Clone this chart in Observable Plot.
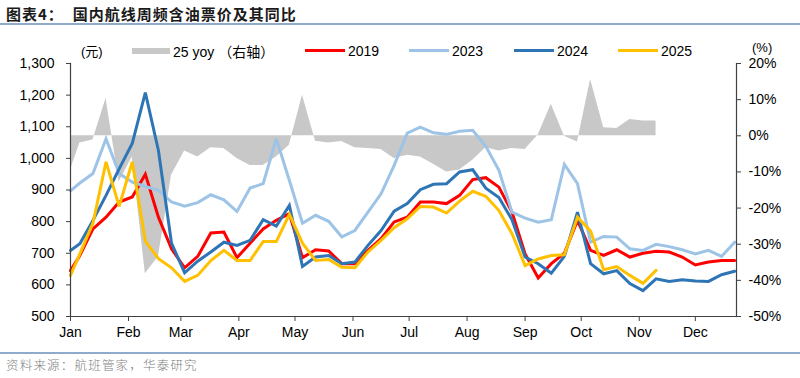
<!DOCTYPE html>
<html>
<head>
<meta charset="utf-8">
<script src="https://cdn.jsdelivr.net/npm/d3@7"></script>
<script src="https://cdn.jsdelivr.net/npm/@observablehq/plot@0.6"></script>
<style>
  html, body { margin: 0; padding: 0; background: #fff; }
  #wrap { position: relative; width: 800px; height: 378px; overflow: hidden; font-family: "Liberation Sans", Arial, sans-serif; }
  .abs { position: absolute; white-space: nowrap; }
  .title { left: 6px; top: 5px; font-family: "Noto Sans CJK SC", sans-serif; font-weight: 700; font-size: 15px; line-height: 18px; color: #1a1a1a; letter-spacing: 1px; }
  .rule { left: 0; width: 800px; height: 1.5px; background: #8FAACB; }
  .footer { left: 6px; top: 357px; font-family: "Noto Sans CJK SC", sans-serif; font-weight: 300; font-size: 12.5px; line-height: 16px; color: #808080; letter-spacing: 1.2px; }
  .leg { font-size: 14px; line-height: 16px; color: #000; }
  .sw { position: absolute; height: 3px; }
  .unit { font-size: 13px; line-height: 14px; color: #000; }
</style>
</head>
<body>
<div id="wrap">
  <div class="abs title">图表4：&nbsp; 国内航线周频含油票价及其同比</div>
  <div class="abs rule" style="top:23px"></div>
  <div id="chart" class="abs" style="left:0;top:28px"></div>
  <div id="legend"></div>
  <div class="abs unit" style="left:81px;top:44px">(<span style="font-family:'Noto Sans CJK SC'">元</span>)</div>
  <div class="abs unit" style="left:752px;top:41px">(%)</div>
  <div class="abs rule" style="top:352px"></div>
  <div class="abs footer">资料来源：航班管家，华泰研究</div>
</div>
<script>
// Weekly observation dates (shared x for all series), plotted on a 2025 calendar
const weeks = ["01-01","01-06","01-13","01-20","01-27","02-03","02-10","02-17","02-24","03-03","03-10",
  "03-17","03-24","03-31","04-07","04-14","04-21","04-28","05-05","05-12","05-19","05-26",
  "06-02","06-09","06-16","06-23","06-30","07-07","07-14","07-21","07-28","08-04",
  "08-11","08-18","08-25","09-01","09-08","09-15","09-22","09-29","10-06","10-13",
  "10-20","10-27","11-03","11-10","11-17","11-24","12-01","12-08","12-15","12-22"];

// Fares (元)
const fare2019 = [645,693,777,814,862,878,950,814,714,654,690,
  764,767,686,732,777,804,825,686,711,707,667,
  667,709,746,799,814,862,862,857,883,933,
  939,909,830,698,622,667,700,804,709,693,
  711,688,700,706,704,688,663,672,677,677];
const fare2023 = [897,922,952,1062,952,925,911,899,862,849,860,
  885,869,832,906,920,1062,930,795,820,801,752,
  772,830,888,978,1080,1099,1081,1076,1086,1089,
  1038,962,830,811,798,806,981,920,735,753,
  751,714,709,728,721,711,698,709,690,735];
const fare2024 = [709,730,804,883,967,1047,1208,1025,732,638,675,
  704,735,725,741,806,786,851,658,688,693,667,
  672,725,772,833,857,901,918,920,957,964,
  906,876,806,688,667,637,690,830,667,635,
  645,604,582,619,611,616,612,611,632,643];
const fare2025 = [630,698,795,989,848,989,738,683,654,611,630,
  677,709,677,677,737,737,823,732,677,680,656,
  654,704,741,781,809,848,846,827,865,896,
  880,835,762,661,682,693,695,814,770,648,
  658,630,605,646];
// 2025 year-on-year (%, right axis)
const yoy25 = [-9.5,-2.0,-1.2,10.3,-12.8,-5.9,-38.2,-33.5,-10.9,-4.2,-5.9,
  -3.3,-3.5,-6.3,-8.2,-8.2,-5.9,-2.6,11.2,-1.5,-2.0,-1.6,
  -3.3,-3.5,-3.8,-6.3,-5.4,-5.9,-7.9,-10.0,-9.5,-6.8,
  -3.3,-4.2,-3.5,-3.8,0.2,8.7,-0.1,-1.7,15.6,2.2,
  2.0,4.5,4.1,4.1];

const leftTicks = [500,600,700,800,900,1000,1100,1200,1300];
const pctTicks = [-50,-40,-30,-20,-10,0,10,20];
const monthTicks = ["01-01","02-01","03-01","04-01","05-01","06-01","07-01","08-01","09-01","10-01","11-01","12-01"];

const series = [
  {name: "2019", values: fare2019, color: "#FF0000"},
  {name: "2023", values: fare2023, color: "#9DC3E6"},
  {name: "2024", values: fare2024, color: "#2E75B6"},
  {name: "2025", values: fare2025, color: "#FFC000"}
];

const toDate = s => new Date("2025-" + s + "T00:00:00Z");
// map right-axis percentage onto the left scale: 20% <-> 1300, -50% <-> 500
const toLeft = p => 500 + (p + 50) * 800 / 70;
const fromLeft = v => (v - 500) * 70 / 800 - 50;

const lineData = series.flatMap(s => s.values.map((v, i) => ({date: toDate(weeks[i]), v, name: s.name})));
const yoyData = yoy25.map((p, i) => ({date: toDate(weeks[i]), p}));

const axisColor = "#404040";
const chart = Plot.plot({
  width: 800,
  height: 322,
  marginTop: 35,
  marginBottom: 34,
  marginLeft: 70,
  marginRight: 64,
  style: {fontFamily: "'Liberation Sans', Arial, sans-serif", fontSize: "14px", color: "#000", background: "transparent", overflow: "visible"},
  x: {type: "utc", domain: [toDate("01-01"), toDate("12-23")]},
  y: {domain: [500, 1300]},
  color: {domain: series.map(s => s.name), range: series.map(s => s.color)},
  marks: [
    Plot.areaY(yoyData, {x: "date", y1: () => toLeft(0), y2: d => toLeft(d.p), fill: "#C8C8C8", curve: "linear"}),
    Plot.lineY(lineData, {x: "date", y: "v", z: "name", stroke: "name", strokeWidth: 3, strokeLinejoin: "miter", strokeMiterlimit: 3, curve: "linear"}),
    Plot.frame({anchor: "left", stroke: axisColor, strokeWidth: 1.2}),
    Plot.frame({anchor: "right", stroke: axisColor, strokeWidth: 1.2}),
    Plot.frame({anchor: "bottom", stroke: axisColor, strokeWidth: 1.2}),
    Plot.axisX({ticks: monthTicks.map(toDate), tickFormat: d3.utcFormat("%b"), tickSize: 5, tickPadding: 6, label: null, stroke: axisColor, fill: "#000"}),
    Plot.axisY({anchor: "left", ticks: leftTicks, tickFormat: d3.format(","), tickSize: 4, tickPadding: 12, label: null, stroke: axisColor, fill: "#000"}),
    Plot.axisY({anchor: "right", ticks: pctTicks.map(toLeft), tickFormat: v => Math.round(fromLeft(v)) + "%", tickSize: 4, tickPadding: 8, label: null, stroke: axisColor, fill: "#000"})
  ]
});
document.getElementById("chart").appendChild(chart);

// Legend
const legend = document.getElementById("legend");
const items = [
  {x: 132, w: 38, h: 6, color: "#C8C8C8", label: '25 yoy <span style="font-family:\'Noto Sans CJK SC\'">（右轴）</span>'},
  {x: 305, w: 40, h: 3, color: series[0].color, label: series[0].name},
  {x: 409, w: 40, h: 3, color: series[1].color, label: series[1].name},
  {x: 514, w: 40, h: 3, color: series[2].color, label: series[2].name},
  {x: 618, w: 40, h: 3, color: series[3].color, label: series[3].name}
];
for (const it of items) {
  const sw = document.createElement("div");
  sw.className = "sw";
  sw.style.left = it.x + "px";
  sw.style.top = (50.5 - it.h / 2) + "px";
  sw.style.width = it.w + "px";
  sw.style.height = it.h + "px";
  sw.style.background = it.color;
  legend.appendChild(sw);
  const t = document.createElement("div");
  t.className = "abs leg";
  t.style.left = (it.x + it.w + 3) + "px";
  t.style.top = "43px";
  t.innerHTML = it.label;
  legend.appendChild(t);
}
</script>
</body>
</html>
